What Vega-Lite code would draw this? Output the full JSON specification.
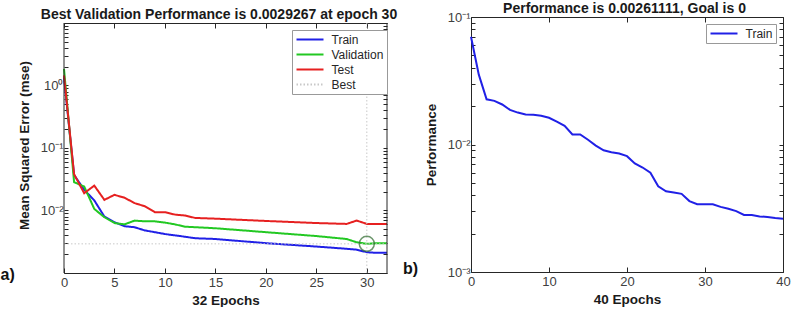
{
  "$schema": "https://vega.github.io/schema/vega-lite/v6.json",
  "padding": {"top": 1, "left": 0, "right": 0, "bottom": 0},
  "background": "white",
  "config": {
    "font": "Liberation Sans",
    "view": {"stroke": null},
    "axis": {
      "grid": false,
      "minExtent": 0,
      "domainColor": "#262626",
      "domainWidth": 1,
      "tickColor": "#262626",
      "tickSize": -4,
      "labelFont": "Liberation Sans",
      "labelFontSize": 13,
      "labelColor": "#404040",
      "labelPadding": 5,
      "labelFlush": false,
      "labelOverlap": false,
      "titleFont": "Liberation Sans",
      "titleFontSize": 13.5,
      "titleFontWeight": "bold",
      "titleColor": "#1a1a1a"
    },
    "legend": {
      "title": null,
      "symbolType": "M-1,0H4.4",
      "symbolSize": 100,
      "symbolStrokeWidth": 2,
      "labelFont": "Liberation Sans",
      "labelFontSize": 12,
      "labelColor": "#262626",
      "labelOffset": 24,
      "padding": 3.5,
      "rowPadding": 3,
      "strokeColor": "#999999",
      "fillColor": "white"
    }
  },
  "spacing": 5,
  "resolve": {
    "scale": {"x": "independent", "y": "independent", "color": "independent", "strokeDash": "independent"},
    "legend": {"color": "independent", "strokeDash": "independent"}
  },
  "hconcat": [
    {
      "width": 323,
      "height": 256,
      "resolve": {"axis": {"x": "independent", "y": "independent"}},
      "layer": [
        {
          "data": {"values": [
            {"series": "Train", "epoch": 0, "mse": 1.35},
            {"series": "Train", "epoch": 1, "mse": 0.037},
            {"series": "Train", "epoch": 2, "mse": 0.0215},
            {"series": "Train", "epoch": 3, "mse": 0.0145},
            {"series": "Train", "epoch": 4, "mse": 0.0080},
            {"series": "Train", "epoch": 5, "mse": 0.0065},
            {"series": "Train", "epoch": 6, "mse": 0.0056},
            {"series": "Train", "epoch": 7, "mse": 0.0054},
            {"series": "Train", "epoch": 8, "mse": 0.0048},
            {"series": "Train", "epoch": 9, "mse": 0.0045},
            {"series": "Train", "epoch": 10, "mse": 0.0042},
            {"series": "Train", "epoch": 11, "mse": 0.0040},
            {"series": "Train", "epoch": 12, "mse": 0.0038},
            {"series": "Train", "epoch": 13, "mse": 0.0036},
            {"series": "Train", "epoch": 15, "mse": 0.0035},
            {"series": "Train", "epoch": 20, "mse": 0.0030},
            {"series": "Train", "epoch": 25, "mse": 0.00265},
            {"series": "Train", "epoch": 28, "mse": 0.00244},
            {"series": "Train", "epoch": 29, "mse": 0.00236},
            {"series": "Train", "epoch": 30, "mse": 0.00215},
            {"series": "Train", "epoch": 31, "mse": 0.0021},
            {"series": "Train", "epoch": 32, "mse": 0.0021},
            {"series": "Validation", "epoch": 0, "mse": 1.85},
            {"series": "Validation", "epoch": 1, "mse": 0.0284},
            {"series": "Validation", "epoch": 2, "mse": 0.0242},
            {"series": "Validation", "epoch": 3, "mse": 0.0106},
            {"series": "Validation", "epoch": 4, "mse": 0.0078},
            {"series": "Validation", "epoch": 5, "mse": 0.0063},
            {"series": "Validation", "epoch": 6, "mse": 0.0060},
            {"series": "Validation", "epoch": 7, "mse": 0.0069},
            {"series": "Validation", "epoch": 8, "mse": 0.0067},
            {"series": "Validation", "epoch": 9, "mse": 0.0067},
            {"series": "Validation", "epoch": 10, "mse": 0.0064},
            {"series": "Validation", "epoch": 11, "mse": 0.0060},
            {"series": "Validation", "epoch": 12, "mse": 0.0055},
            {"series": "Validation", "epoch": 13, "mse": 0.0054},
            {"series": "Validation", "epoch": 15, "mse": 0.0052},
            {"series": "Validation", "epoch": 20, "mse": 0.0045},
            {"series": "Validation", "epoch": 25, "mse": 0.0039},
            {"series": "Validation", "epoch": 28, "mse": 0.0035},
            {"series": "Validation", "epoch": 29, "mse": 0.0031},
            {"series": "Validation", "epoch": 30, "mse": 0.0029267},
            {"series": "Validation", "epoch": 31, "mse": 0.0030},
            {"series": "Validation", "epoch": 32, "mse": 0.0030},
            {"series": "Test", "epoch": 0, "mse": 1.45},
            {"series": "Test", "epoch": 1, "mse": 0.038},
            {"series": "Test", "epoch": 2, "mse": 0.0189},
            {"series": "Test", "epoch": 3, "mse": 0.025},
            {"series": "Test", "epoch": 4, "mse": 0.0148},
            {"series": "Test", "epoch": 5, "mse": 0.0178},
            {"series": "Test", "epoch": 6, "mse": 0.016},
            {"series": "Test", "epoch": 7, "mse": 0.0131},
            {"series": "Test", "epoch": 8, "mse": 0.0117},
            {"series": "Test", "epoch": 9, "mse": 0.0094},
            {"series": "Test", "epoch": 10, "mse": 0.0094},
            {"series": "Test", "epoch": 11, "mse": 0.0086},
            {"series": "Test", "epoch": 12, "mse": 0.0083},
            {"series": "Test", "epoch": 13, "mse": 0.0076},
            {"series": "Test", "epoch": 15, "mse": 0.0074},
            {"series": "Test", "epoch": 20, "mse": 0.0068},
            {"series": "Test", "epoch": 25, "mse": 0.0063},
            {"series": "Test", "epoch": 28, "mse": 0.0061},
            {"series": "Test", "epoch": 29, "mse": 0.0069},
            {"series": "Test", "epoch": 30, "mse": 0.0061},
            {"series": "Test", "epoch": 31, "mse": 0.0061},
            {"series": "Test", "epoch": 32, "mse": 0.0061}
          ]},
          "mark": {"type": "line", "strokeWidth": 2},
          "encoding": {
            "x": {"field": "epoch", "type": "quantitative",
              "scale": {"domain": [0, 32], "nice": false, "zero": false},
              "axis": {"orient": "bottom", "values": [0, 5, 10, 15, 20, 25, 30], "title": "32 Epochs", "tickSize": -5, "labelPadding": 8, "titlePadding": 4}},
            "y": {"field": "mse", "type": "quantitative",
              "scale": {"type": "log", "domain": [0.001, 12.47], "nice": false},
              "axis": {"orient": "left", "title": "Mean Squared Error  (mse)", "titlePadding": 9, "domain": false,
                "values": [0.001,0.002,0.003,0.004,0.005,0.006,0.007,0.008,0.009,0.01,0.02,0.03,0.04,0.05,0.06,0.07,0.08,0.09,0.1,0.2,0.3,0.4,0.5,0.6,0.7,0.8,0.9,1,2,3,4,5,6,7,8,9,10],
                "labelExpr": "datum.value == 1 ? '10⁰' : datum.value == 0.1 ? '10⁻¹' : datum.value == 0.01 ? '10⁻²' : ''"}},
            "color": {"field": "series", "type": "nominal",
              "scale": {"domain": ["Train", "Validation", "Test", "Best"], "range": ["#2020e6", "#22c822", "#e62020", "#c8c8c8"]},
              "legend": {"orient": "none", "legendX": 228, "legendY": 13}},
            "strokeDash": {"field": "series", "type": "nominal",
              "scale": {"domain": ["Train", "Validation", "Test", "Best"], "range": [[1, 0], [1, 0], [1, 0], [1.5, 2]]},
              "legend": {"orient": "none", "legendX": 228, "legendY": 13}}
          }
        },
        {
          "data": {"values": [
            {"series": "Best", "bx": 0, "bx2": 32, "by": 0.0029267, "by2": 0.0029267},
            {"series": "Best", "bx": 30, "bx2": 30, "by": 0.001, "by2": 10}
          ]},
          "mark": {"type": "rule", "strokeWidth": 1},
          "encoding": {
            "x": {"field": "bx", "type": "quantitative",
              "axis": {"orient": "top", "offset": -6, "values": [0, 5, 10, 15, 20, 25, 30], "labels": false, "tickSize": -5,
                "title": "Best Validation Performance is 0.0029267 at epoch 30", "titleFontSize": 14, "titleBaseline": "alphabetic", "titlePadding": 3.7, "titleX": 154.5, "titleAlign": "center"}},
            "x2": {"field": "bx2"},
            "y": {"field": "by", "type": "quantitative",
              "axis": {"orient": "right", "labels": false, "title": null, "domain": false,
                "values": [0.001,0.002,0.003,0.004,0.005,0.006,0.007,0.008,0.009,0.01,0.02,0.03,0.04,0.05,0.06,0.07,0.08,0.09,0.1,0.2,0.3,0.4,0.5,0.6,0.7,0.8,0.9,1,2,3,4,5,6,7,8,9,10]}},
            "y2": {"field": "by2"},
            "color": {"field": "series", "type": "nominal"},
            "strokeDash": {"field": "series", "type": "nominal"}
          }
        },
        {
          "data": {"values": [{}]},
          "mark": {"type": "rule", "strokeWidth": 1, "color": "#262626"},
          "encoding": {
            "x": {"datum": 0, "type": "quantitative", "axis": null},
            "y": {"datum": 0.001, "type": "quantitative", "axis": null},
            "y2": {"datum": 10}
          }
        },
        {
          "data": {"values": [{}]},
          "mark": {"type": "rule", "strokeWidth": 1, "color": "#262626"},
          "encoding": {
            "x": {"datum": 32, "type": "quantitative", "axis": null},
            "y": {"datum": 0.001, "type": "quantitative", "axis": null},
            "y2": {"datum": 10}
          }
        },
        {
          "data": {"values": [{"epoch": 30, "mse": 0.0029267}]},
          "mark": {"type": "point", "shape": "circle", "size": 225, "filled": false, "stroke": "#2e6b2e", "strokeWidth": 1.5},
          "encoding": {
            "x": {"field": "epoch", "type": "quantitative", "axis": null},
            "y": {"field": "mse", "type": "quantitative", "axis": null}
          }
        },
        {
          "data": {"values": [{"label": "a)"}]},
          "mark": {"type": "text", "fontSize": 16, "fontWeight": "bold", "align": "left", "baseline": "middle", "color": "#111111"},
          "encoding": {
            "x": {"datum": -6.29, "type": "quantitative", "axis": null},
            "y": {"datum": 0.000929, "type": "quantitative", "axis": null},
            "text": {"field": "label"}
          }
        }
      ]
    },
    {
      "width": 312,
      "height": 255,
      "data": {"values": [
        {"series": "Train", "epoch": 0, "perf": 0.070},
        {"series": "Train", "epoch": 1, "perf": 0.0353},
        {"series": "Train", "epoch": 2, "perf": 0.0226},
        {"series": "Train", "epoch": 3, "perf": 0.0220},
        {"series": "Train", "epoch": 4, "perf": 0.0206},
        {"series": "Train", "epoch": 5, "perf": 0.0187},
        {"series": "Train", "epoch": 6, "perf": 0.0178},
        {"series": "Train", "epoch": 7, "perf": 0.0172},
        {"series": "Train", "epoch": 8, "perf": 0.0171},
        {"series": "Train", "epoch": 9, "perf": 0.0168},
        {"series": "Train", "epoch": 10, "perf": 0.0162},
        {"series": "Train", "epoch": 11, "perf": 0.0151},
        {"series": "Train", "epoch": 12, "perf": 0.0140},
        {"series": "Train", "epoch": 13, "perf": 0.0120},
        {"series": "Train", "epoch": 14, "perf": 0.0120},
        {"series": "Train", "epoch": 15, "perf": 0.0109},
        {"series": "Train", "epoch": 16, "perf": 0.0098},
        {"series": "Train", "epoch": 17, "perf": 0.0090},
        {"series": "Train", "epoch": 18, "perf": 0.0087},
        {"series": "Train", "epoch": 19, "perf": 0.0085},
        {"series": "Train", "epoch": 20, "perf": 0.0081},
        {"series": "Train", "epoch": 21, "perf": 0.0071},
        {"series": "Train", "epoch": 22, "perf": 0.0066},
        {"series": "Train", "epoch": 23, "perf": 0.0060},
        {"series": "Train", "epoch": 24, "perf": 0.0047},
        {"series": "Train", "epoch": 25, "perf": 0.0043},
        {"series": "Train", "epoch": 26, "perf": 0.0042},
        {"series": "Train", "epoch": 27, "perf": 0.0041},
        {"series": "Train", "epoch": 28, "perf": 0.0036},
        {"series": "Train", "epoch": 29, "perf": 0.0034},
        {"series": "Train", "epoch": 30, "perf": 0.0034},
        {"series": "Train", "epoch": 31, "perf": 0.0034},
        {"series": "Train", "epoch": 32, "perf": 0.00324},
        {"series": "Train", "epoch": 33, "perf": 0.00313},
        {"series": "Train", "epoch": 34, "perf": 0.0030},
        {"series": "Train", "epoch": 35, "perf": 0.0028},
        {"series": "Train", "epoch": 36, "perf": 0.0028},
        {"series": "Train", "epoch": 37, "perf": 0.00273},
        {"series": "Train", "epoch": 38, "perf": 0.0027},
        {"series": "Train", "epoch": 39, "perf": 0.00265},
        {"series": "Train", "epoch": 40, "perf": 0.00261111}
      ]},
      "resolve": {"axis": {"x": "independent", "y": "independent"}},
      "layer": [
        {
          "mark": {"type": "line", "strokeWidth": 2},
          "encoding": {
            "x": {"field": "epoch", "type": "quantitative",
              "scale": {"domain": [0, 40], "nice": false, "zero": false},
              "axis": {"orient": "bottom", "values": [0, 10, 20, 30, 40], "title": "40 Epochs", "tickSize": -5, "labelPadding": 8, "titlePadding": 4}},
            "y": {"field": "perf", "type": "quantitative",
              "scale": {"type": "log", "domain": [0.001, 0.1], "nice": false},
              "axis": {"orient": "left", "title": "Performance", "titlePadding": 8.5,
                "values": [0.001,0.002,0.003,0.004,0.005,0.006,0.007,0.008,0.009,0.01,0.02,0.03,0.04,0.05,0.06,0.07,0.08,0.09,0.1],
                "labelExpr": "datum.value == 0.1 ? '10⁻¹' : datum.value == 0.01 ? '10⁻²' : datum.value == 0.001 ? '10⁻³' : ''"}},
            "color": {"field": "series", "type": "nominal",
              "scale": {"domain": ["Train"], "range": ["#2020e6"]},
              "legend": {"orient": "top-right", "offset": 7}}
          }
        },
        {
          "mark": {"type": "point", "opacity": 0},
          "encoding": {
            "x": {"field": "epoch", "type": "quantitative",
              "axis": {"orient": "top", "values": [0, 10, 20, 30, 40], "labels": false, "tickSize": -5,
                "title": "Performance is 0.00261111, Goal is 0", "titleFontSize": 14, "titleBaseline": "alphabetic", "titlePadding": 4.3, "titleX": 153, "titleAlign": "center"}},
            "y": {"field": "perf", "type": "quantitative",
              "axis": {"orient": "right", "labels": false, "title": null,
                "values": [0.001,0.002,0.003,0.004,0.005,0.006,0.007,0.008,0.009,0.01,0.02,0.03,0.04,0.05,0.06,0.07,0.08,0.09,0.1]}}
          }
        },
        {
          "data": {"values": [{"label": "b)"}]},
          "mark": {"type": "text", "fontSize": 16, "fontWeight": "bold", "align": "left", "baseline": "middle", "color": "#111111"},
          "encoding": {
            "x": {"datum": -8.72, "type": "quantitative", "axis": null},
            "y": {"datum": 0.00106, "type": "quantitative", "axis": null},
            "text": {"field": "label"}
          }
        }
      ]
    }
  ]
}
